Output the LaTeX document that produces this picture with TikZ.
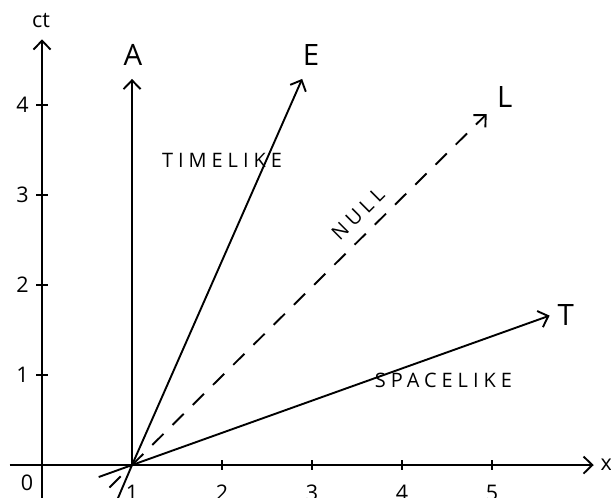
\documentclass[tikz,border=0pt]{standalone}
\usepackage{fontspec}
\setmainfont{Open Sans}
\newfontfamily\spacedfont[LetterSpace=25]{Open Sans}
\usetikzlibrary{arrows.meta}
\begin{document}
\begin{tikzpicture}[x=1cm,y=1cm,
  ln/.style={line width=0.6pt},
  arr/.style={ln,-{Straight Barb[length=2.8pt,width=5.4pt]}},
  ticklab/.style={font=\fontsize{6.8}{8}\selectfont,inner sep=0pt},
  biglab/.style={font=\fontsize{9.3}{10}\selectfont,inner sep=0pt},
  region/.style={font=\spacedfont\fontsize{6.3}{7}\selectfont,inner sep=0pt}]
\useasboundingbox (-0.467,-0.356) rectangle (6.322,5.167);
% key points
\coordinate (O) at (0,0);
\coordinate (P) at (1,0);
\coordinate (xs) at (-0.36,0);
\coordinate (xe) at (6.13,0);
\coordinate (ys) at (0,-0.4);
\coordinate (ye) at (0,4.73);
\coordinate (Aend) at (1,4.29);
\coordinate (Eend) at (2.89,4.29);
\coordinate (Eback) at (0.83,-0.4);
\coordinate (Lend) at (4.94,3.9);
\coordinate (Lback) at (0.75,-0.25);
\coordinate (Tend) at (5.64,1.66);
\coordinate (Tback) at (0.63,-0.133);
% axes
\draw[arr] (xs) -- (xe);
\draw[arr] (ys) -- (ye);
% ticks
\foreach \i in {2,3,4,5} { \draw[ln] (\i,-0.055) -- (\i,0.055); }
\foreach \j in {1,2,3,4} { \draw[ln] (-0.067,\j) -- (0.067,\j); }
% tick labels
\node[ticklab] (x0) at (-0.167,-0.2) {0};
\foreach \i in {1,2,3,4,5} { \node[ticklab] (xl\i) at (\i,-0.31) {\i}; }
\foreach \j in {1,2,3,4} { \node[ticklab] (yl\j) at (-0.217,\j) {\j}; }
\node[ticklab] (ctlab) at (-0.01,4.94) {ct};
\node[ticklab] (xlab) at (6.27,0.0) {x};
% world lines
\draw[arr] (P) -- (Aend);
\draw[ln] (Eback) -- (P);
\draw[arr] (P) -- (Eend);
\draw[ln,dashed,dash pattern=on 5pt off 4pt] (Lback) -- (P);
\draw[arr,dash pattern=on 5pt off 4pt] (P) -- (Lend);
\draw[ln] (Tback) -- (P);
\draw[arr] (P) -- (Tend);
% labels
\node[biglab] (A) at (1.01,4.56) {A};
\node[biglab] (E) at (2.99,4.56) {E};
\node[biglab] (L) at (5.14,4.09) {L};
\node[biglab] (T) at (5.82,1.67) {T};
\node[region] (tl) at (2.0,3.38) {TIMELIKE};
\node[region] (sl) at (4.46,0.94) {SPACELIKE};
\node[region,rotate=44.8] (nl) at (3.51,2.79) {NULL};
\end{tikzpicture}
\end{document}
